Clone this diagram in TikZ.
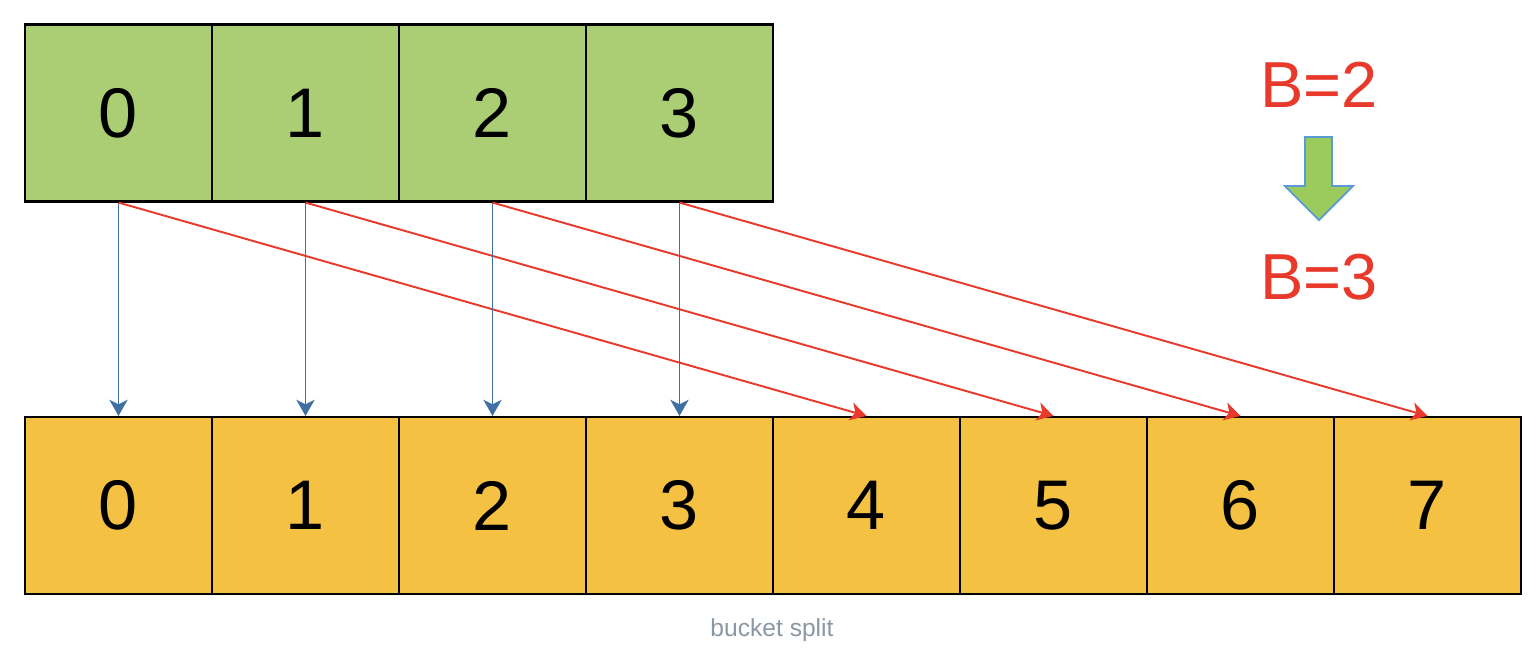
\documentclass[tikz,border=0pt]{standalone}
\usepackage{fontspec}
\setmainfont{Liberation Sans}
\usepackage{xcolor}
\usetikzlibrary{arrows.meta}
\definecolor{oldgreen}{HTML}{ABCE74}
\definecolor{neworange}{HTML}{F4C142}
\definecolor{keepblue}{HTML}{3F6FA3}
\definecolor{movered}{HTML}{E8392B}
\definecolor{arrowgreen}{HTML}{9BCB5C}
\definecolor{arrowblue}{HTML}{5B9BD5}
\definecolor{captiongray}{HTML}{8A97A5}
\tikzset{
    cell/.style = {rectangle, draw=black, line width=0.6pt, minimum width=1.87cm, minimum height=1.77cm, inner sep=0pt, font=\fontsize{20}{24}\selectfont},
    old_cell/.style = {cell, fill=oldgreen},
    new_cell/.style = {cell, fill=neworange},
    keep_arrow/.style = {->, draw=keepblue, line width=0.55pt},
    move_arrow/.style = {->, draw=movered, line width=0.55pt},
    level_text/.style = {text=movered, font=\fontsize{18.5}{22}\selectfont},
    split_arrow/.style = {draw=arrowblue, fill=arrowgreen, line width=0.5pt}
}

\begin{document}
\begin{tikzpicture}[>={Stealth[length=4.6pt,width=5.2pt,inset=1.3pt]}]
    \useasboundingbox (0,0) rectangle (15.4,-6.54);
    % buckets before the split
    \foreach \i in {0,...,3}
        \node [old_cell] (old\i) at ({0.25+1.87*(\i+0.5)},-1.13) {\i};
    % buckets after the split
    \foreach \i in {0,...,7}
        \node [new_cell] (new\i) at ({0.25+1.87*(\i+0.5)},-5.055) {\i};
    % each bucket stays or moves up by 4
    \foreach \i [evaluate=\i as \j using int(\i+4)] in {0,...,3} {
        \draw [keep_arrow] (old\i.south) -- (new\i.north);
        \draw [move_arrow] (old\i.south) -- (new\j.north);
    }
    \node [level_text] (before) at (13.19,-0.85) {B=2};
    \node [level_text] (after) at (13.19,-2.77) {B=3};
    \draw [split_arrow] (13.05,-1.37) -- (13.32,-1.37) -- (13.32,-1.86) -- (13.53,-1.86)
        -- (13.19,-2.20) -- (12.85,-1.86) -- (13.05,-1.86) -- cycle;
    \node [text=captiongray, font=\fontsize{7}{8}\selectfont] (caption) at (7.72,-6.30) {bucket split};
\end{tikzpicture}
\end{document}
